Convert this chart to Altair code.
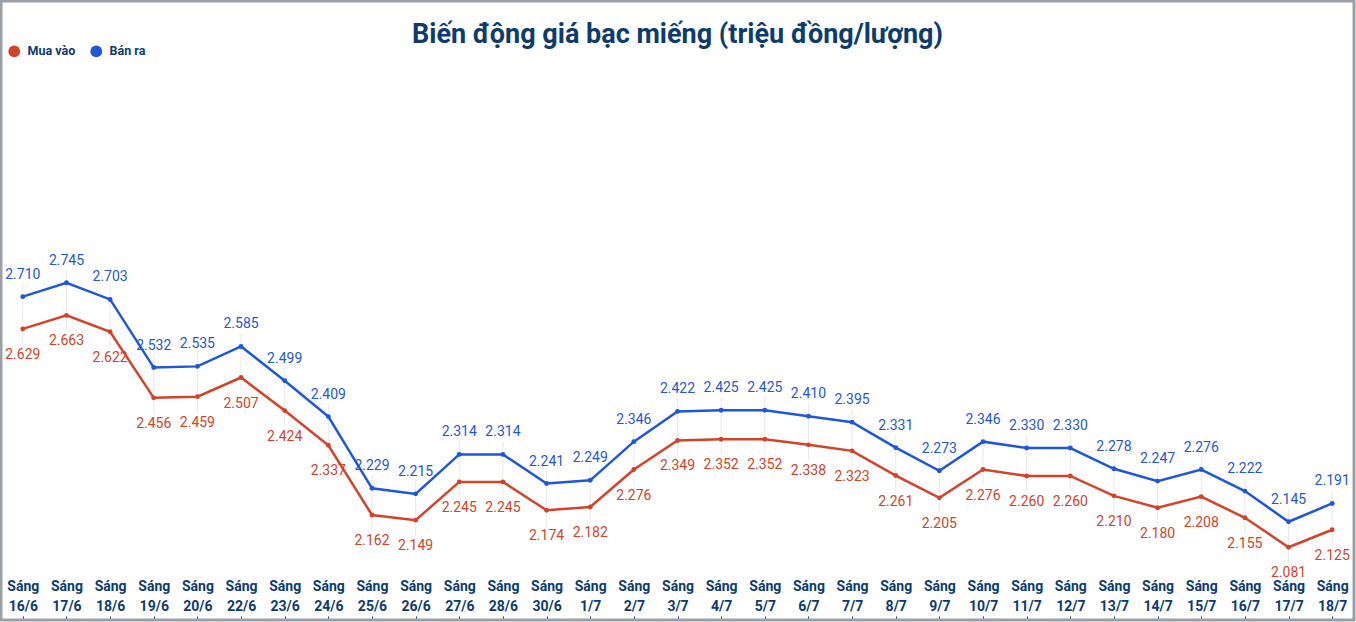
import altair as alt
import pandas as pd

dates = ["16/6", "17/6", "18/6", "19/6", "20/6", "22/6", "23/6", "24/6", "25/6", "26/6",
         "27/6", "28/6", "30/6", "1/7", "2/7", "3/7", "4/7", "5/7", "6/7", "7/7",
         "8/7", "9/7", "10/7", "11/7", "12/7", "13/7", "14/7", "15/7", "16/7", "17/7", "18/7"]
mua_vao = [2.629, 2.663, 2.622, 2.456, 2.459, 2.507, 2.424, 2.337, 2.162, 2.149,
           2.245, 2.245, 2.174, 2.182, 2.276, 2.349, 2.352, 2.352, 2.338, 2.323,
           2.261, 2.205, 2.276, 2.260, 2.260, 2.210, 2.180, 2.208, 2.155, 2.081, 2.125]
ban_ra = [2.710, 2.745, 2.703, 2.532, 2.535, 2.585, 2.499, 2.409, 2.229, 2.215,
          2.314, 2.314, 2.241, 2.249, 2.346, 2.422, 2.425, 2.425, 2.410, 2.395,
          2.331, 2.273, 2.346, 2.330, 2.330, 2.278, 2.247, 2.276, 2.222, 2.145, 2.191]
series_names = ["Mua vào", "Bán ra"]

NAVY = "#0d3b6e"
RED = "#d2432a"
BLUE = "#1f57d6"

labels = ["Sáng " + d for d in dates]
wide = pd.DataFrame({"label": labels, "buy": mua_vao, "sell": ban_ra})
long = pd.concat([
    pd.DataFrame({"label": labels, "value": mua_vao, "series": series_names[0]}),
    pd.DataFrame({"label": labels, "value": ban_ra, "series": series_names[1]}),
])

x_enc = alt.X(
    "label:N", sort=labels,
    scale=alt.Scale(type="point", padding=0.5),
    axis=alt.Axis(
        title=None, grid=False, domain=False, ticks=True, tickSize=2, tickColor=NAVY,
        offset=-4, labelPadding=-39, labelBaseline="top", labelAngle=0,
        labelFont="Roboto", labelFontWeight="bold", labelFontSize=14, labelColor=NAVY,
        labelLineHeight=20, labelOverlap=False, labelFlush=False,
        labelExpr="split(datum.label, ' ')",
    ),
)
y_scale = alt.Scale(domain=[1.8984, 3.4521], nice=False, zero=False)
color_scale = alt.Scale(domain=series_names, range=[RED, BLUE])

legend = alt.Legend(
    title=None, orient="none", legendX=7, legendY=44, direction="horizontal",
    symbolType="circle", symbolSize=140, symbolOpacity=1, symbolStrokeWidth=0,
    labelFont="Roboto", labelFontWeight="bold", labelFontSize=12.5, labelColor=NAVY,
    labelOffset=7, columnPadding=14, padding=0,
)

rules = alt.Chart(wide).mark_rule(color="#e9e9e9", strokeWidth=1, yOffset=-13, y2Offset=15).encode(
    x=x_enc,
    y=alt.Y("sell:Q", scale=y_scale, axis=None),
    y2="buy:Q",
)

lines = alt.Chart(long).mark_line(strokeWidth=2.5).encode(
    x=x_enc,
    y=alt.Y("value:Q", scale=y_scale, axis=None),
    color=alt.Color("series:N", scale=color_scale, sort=series_names, legend=legend),
)

points = alt.Chart(long).mark_circle(size=24, opacity=1).encode(
    x=x_enc,
    y=alt.Y("value:Q", scale=y_scale, axis=None),
    color=alt.Color("series:N", scale=color_scale, sort=series_names, legend=legend),
)

text_sell = alt.Chart(wide).mark_text(
    font="Roboto", fontSize=14, color=BLUE, dy=-22, baseline="middle"
).encode(
    x=x_enc,
    y=alt.Y("sell:Q", scale=y_scale, axis=None),
    text=alt.Text("sell:Q", format=".3f"),
)

text_buy = alt.Chart(wide).mark_text(
    font="Roboto", fontSize=14, color=RED, dy=26, baseline="middle"
).encode(
    x=x_enc,
    y=alt.Y("buy:Q", scale=y_scale, axis=None),
    text=alt.Text("buy:Q", format=".3f"),
)

chart = alt.layer(rules, lines, points, text_sell, text_buy).properties(
    width=1353, height=619,
    autosize=alt.AutoSizeParams(type="none"),
    padding={"left": 1, "top": 1, "right": 2, "bottom": 2},
    background="white",
    title=alt.TitleParams(
        "Biến động giá bạc miếng (triệu đồng/lượng)",
        font="Roboto", fontSize=27, fontWeight="bold", color=NAVY,
        anchor="middle", frame="group", baseline="alphabetic", offset=-69,
    ),
).configure_view(stroke="#9aa0a6", strokeWidth=3)

chart.save("out.html", embed_options={"renderer": "svg", "actions": False})
